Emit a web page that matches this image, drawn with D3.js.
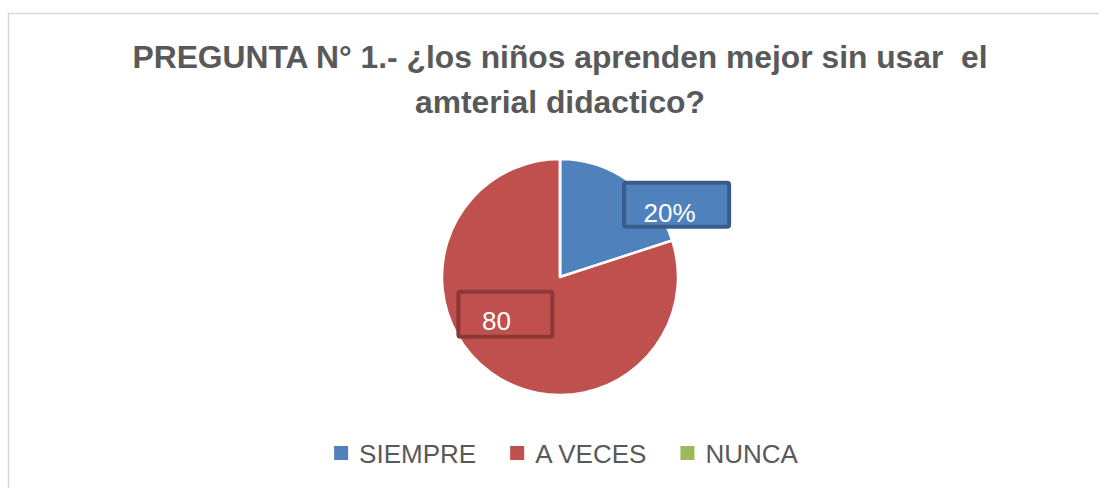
<!DOCTYPE html>
<html>
<head>
<meta charset="utf-8">
<script src="https://cdn.jsdelivr.net/npm/d3@7"></script>
<style>
  body { margin: 0; background: #fff; }
  text { font-family: "Liberation Sans", Arial, sans-serif; }
</style>
</head>
<body>
<div id="chart"></div>
<script>
// data
const categories = ["SIEMPRE", "A VECES", "NUNCA"];
const values = [20, 80, 0];
const labels = ["20%", "80", ""];
const titleLines = ["PREGUNTA N° 1.- ¿los niños aprenden mejor sin usar  el", "amterial didactico?"];

const colors = ["#4f81bd", "#c0504d", "#9bbb59"];
const boxStroke = ["#385d8a", "#8c3836", "#71893f"];

const width = 1099;
const height = 488;
const cx = 560, cy = 277, radius = 118;

const svg = d3.select("#chart")
    .append("svg")
    .attr("width", width)
    .attr("height", height)
    .style("display", "block");

// chart frame
svg.append("rect")
    .attr("x", 8.5)
    .attr("y", 13.5)
    .attr("width", width + 20)
    .attr("height", height + 20)
    .attr("fill", "#fff")
    .attr("stroke", "#d9d9d9")
    .attr("stroke-width", 1.5);

// title
const titleWidths = [855, 290];
const titleBase = [68, 113];
svg.selectAll(".title")
    .data(titleLines)
    .join("text")
    .attr("class", "title")
    .attr("x", cx)
    .attr("y", (d, i) => titleBase[i])
    .attr("text-anchor", "middle")
    .attr("font-size", 31)
    .attr("font-weight", "bold")
    .attr("fill", "#595959")
    .style("white-space", "pre")
    .attr("textLength", (d, i) => titleWidths[i])
    .attr("lengthAdjust", "spacingAndGlyphs")
    .text(d => d);

// pie
const pie = d3.pie().sort(null).value(d => d);
const arc = d3.arc().innerRadius(0).outerRadius(radius);
const arcs = pie(values);

const g = svg.append("g").attr("transform", `translate(${cx},${cy})`);

g.selectAll("path")
    .data(arcs)
    .join("path")
    .attr("d", arc)
    .attr("fill", (d, i) => colors[i])
    .attr("stroke", "#fff")
    .attr("stroke-width", 2.5)
    .attr("stroke-linejoin", "round");

// data labels (boxes moved by hand in the original)
const labelArc = d3.arc().innerRadius(radius * 0.6).outerRadius(radius * 0.6);
const labelShift = [[75, -15], [-13, -20], [0, 0]];
const boxSize = [[105, 44], [94, 45], [0, 0]];
const textShift = [[-7, 17], [-9, 16], [0, 0]];

const lab = g.selectAll(".lab")
    .data(arcs.filter(d => d.value > 0))
    .join("g")
    .attr("class", "lab")
    .attr("transform", d => {
        const c = labelArc.centroid(d);
        const s = labelShift[d.index];
        return `translate(${c[0] + s[0]},${c[1] + s[1]})`;
    });

lab.append("rect")
    .attr("x", d => -boxSize[d.index][0] / 2)
    .attr("y", d => -boxSize[d.index][1] / 2)
    .attr("width", d => boxSize[d.index][0])
    .attr("height", d => boxSize[d.index][1])
    .attr("rx", 2)
    .attr("fill", d => colors[d.index])
    .attr("stroke", d => boxStroke[d.index])
    .attr("stroke-width", 4);

lab.append("text")
    .attr("x", d => textShift[d.index][0])
    .attr("y", d => textShift[d.index][1])
    .attr("text-anchor", "middle")
    .attr("font-size", 26)
    .attr("fill", "#fff")
    .text(d => labels[d.index]);

// legend
const legendY = 453;
const legend = svg.append("g");
const items = legend.selectAll("g")
    .data(categories)
    .join("g");

items.append("rect")
    .attr("width", 14)
    .attr("height", 14)
    .attr("y", legendY - 7)
    .attr("fill", (d, i) => colors[i]);

items.append("text")
    .attr("x", 25)
    .attr("y", legendY + 10)
    .attr("font-size", 26)
    .attr("fill", "#595959")
    .text(d => d);

// lay items out side by side and centre the row
let xpos = 0;
items.each(function () {
    const w = d3.select(this).select("text").node().getComputedTextLength();
    d3.select(this).attr("transform", `translate(${xpos},0)`);
    xpos += 25 + w + 34;
});
const total = xpos - 34;
legend.attr("transform", `translate(${566 - total / 2},0)`);
</script>
</body>
</html>
